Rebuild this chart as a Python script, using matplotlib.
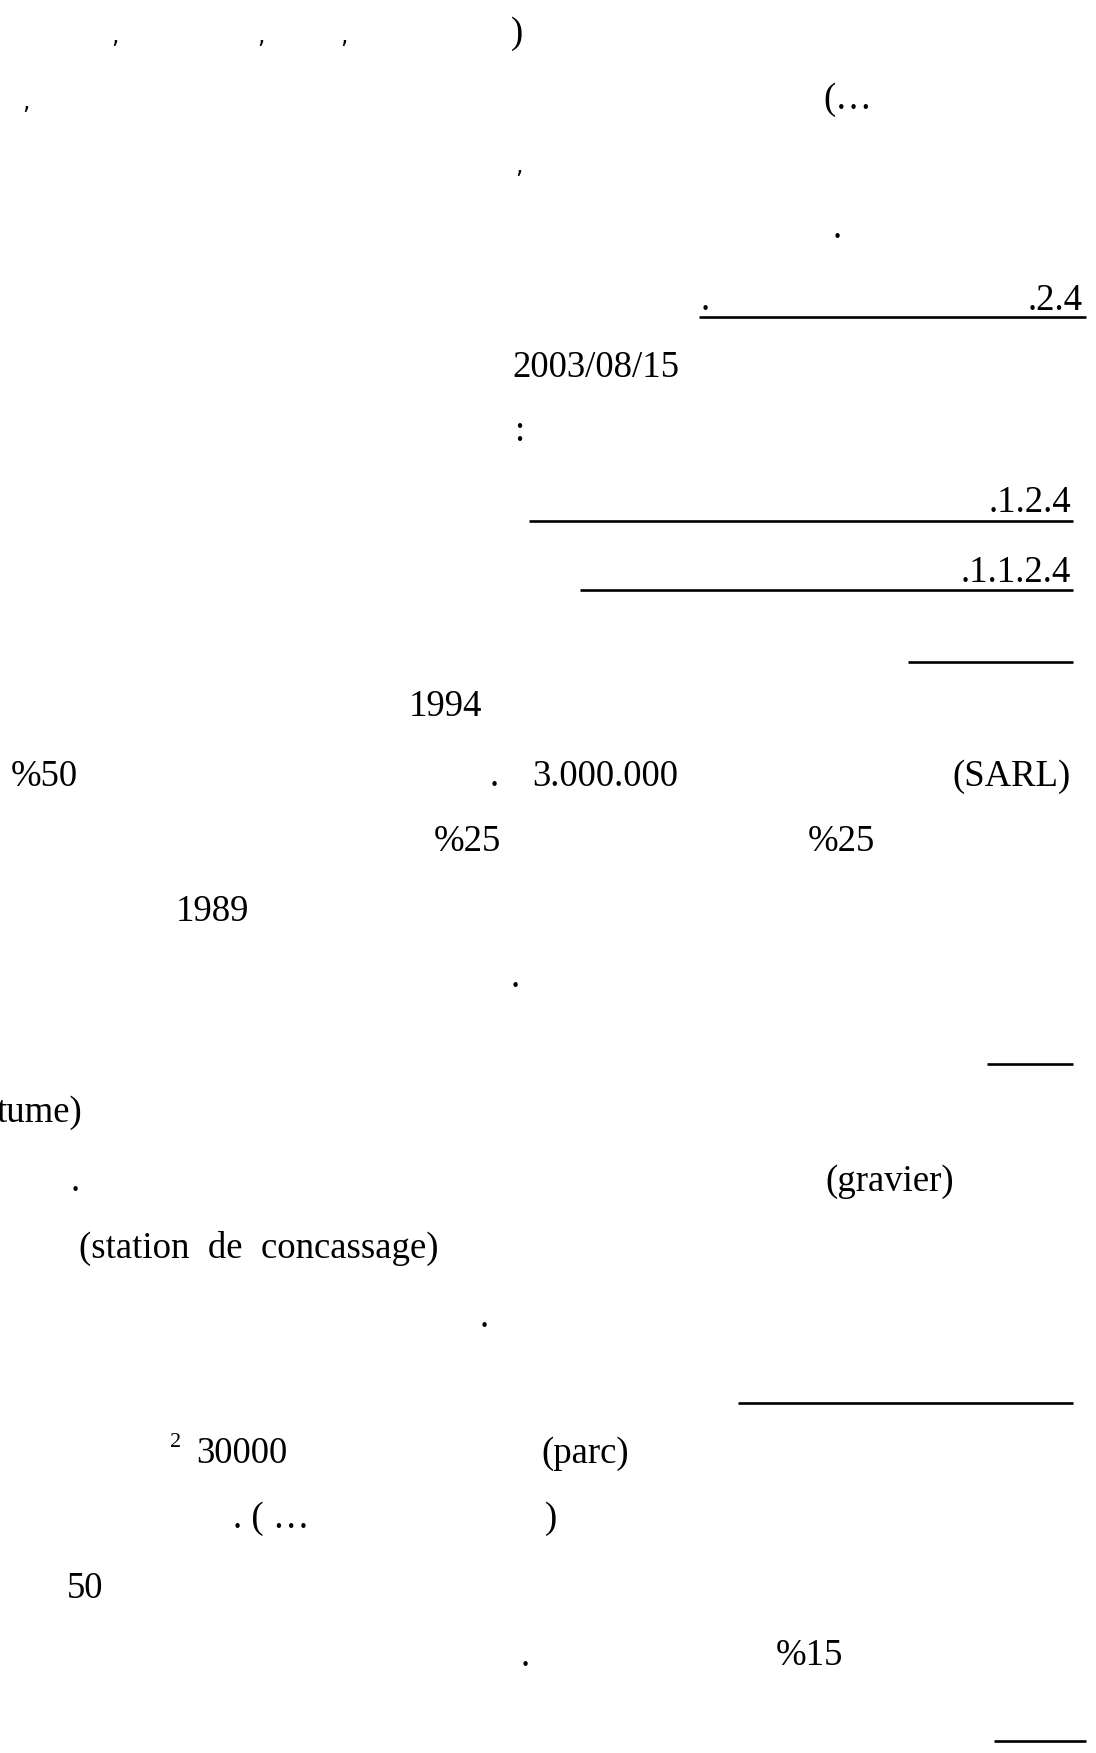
import matplotlib
matplotlib.use("Agg")
import matplotlib.pyplot as plt

plt.rcParams["font.family"] = ["Liberation Serif", "DejaVu Serif"]

W, H = 1096, 1753
FS = 26.5

# text fragments on the page (only the latin / digit parts survived)
left_texts = [")", "(…", "2003/08/15", "1994", "%50", "3.000.000", "%25", "%25",
              "1989", "(gravier)", "(station  de  concassage)", "30000", "(parc)",
              ". ( …", "50", "%15"]
left_x = [511, 823, 512, 409, 11, 532, 434, 808,
          176, 825, 79, 196, 541,
          233, 67, 776]
left_y = [43, 109, 377, 716, 786, 786, 851, 851,
          921, 1191, 1258, 1463, 1463,
          1528, 1598, 1665]

right_texts = [".2.4", ".1.2.4", ".1.1.2.4", "(SARL)", "tume)"]
right_x = [1083, 1071, 1071, 1071, 82]
right_y = [310, 512, 582, 786, 1122]

# lone punctuation marks
marks = [".", ".", ":", ".", ".", ".", ".", ")", "."]
marks_x = [837, 705, 519, 494, 515, 75, 484, 551, 525]
marks_y = [238, 310, 441, 786, 987, 1191, 1327, 1528, 1666]

# small comma ticks
comma_x = [115, 261, 344, 26, 519]
comma_y = [43, 43, 43, 109, 173]

# underlines: (y, x start, x end)
rule_y = [317, 521, 590, 662, 1064, 1403, 1741]
rule_x0 = [699, 529, 580, 908, 987, 738, 994]
rule_x1 = [1086, 1073, 1073, 1073, 1073, 1073, 1086]

fig = plt.figure(figsize=(W / 100, H / 100), dpi=100)
ax = fig.add_axes([0, 0, 1, 1])
ax.set_xlim(0, W)
ax.set_ylim(H, 0)
ax.axis("off")

for t, x, y in zip(left_texts, left_x, left_y):
    ax.text(x, y, t, fontsize=FS, ha="left", va="baseline")

for t, x, y in zip(right_texts, right_x, right_y):
    ax.text(x, y, t, fontsize=FS, ha="right", va="baseline")

for t, x, y in zip(marks, marks_x, marks_y):
    ax.text(x, y, t, fontsize=FS, ha="center", va="baseline")

for x, y in zip(comma_x, comma_y):
    ax.text(x, y, ",", fontsize=17, family="DejaVu Sans", ha="center", va="baseline")

# superscript 2 before 30000
ax.text(176, 1447, "2", fontsize=16, ha="center", va="baseline")

for y, x0, x1 in zip(rule_y, rule_x0, rule_x1):
    ax.plot([x0, x1], [y, y], color="black", lw=1.9, solid_capstyle="butt")

fig.savefig("out.png", dpi=100, facecolor="white")
